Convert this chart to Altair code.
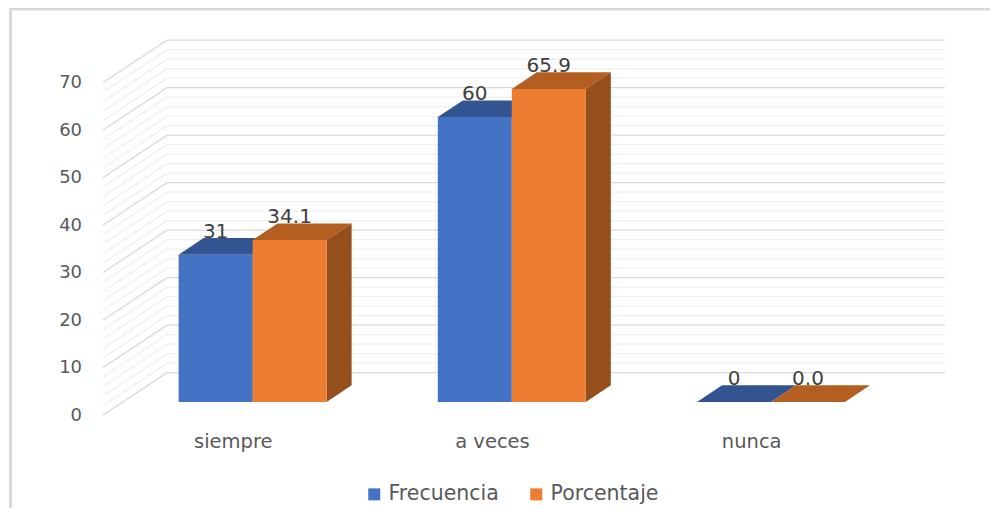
import altair as alt
import pandas as pd

categories = ["siempre", "a veces", "nunca"]
frecuencia = [31, 60, 0]
porcentaje = [34.1, 65.9, 0.0]
series_names = ["Frecuencia", "Porcentaje"]
y_ticks = [0, 10, 20, 30, 40, 50, 60, 70]
minor_ticks = [v for v in range(0, 71, 2) if v % 10 != 0]

FONT = "DejaVu Sans"
W, H = 982, 500
X_DOM = [-0.9437, 2.8449]
Y_DOM = [-22.32, 82.95]
BAR_W, DX, DY = 0.2855, 0.0965, 3.5
WALL_X = (-0.577, -0.330, 2.671)
WALL_Y = (-2.74, 6.19)

xs = alt.Scale(domain=X_DOM, range=[0, W], nice=False, zero=False)
ys = alt.Scale(domain=Y_DOM, range=[H, 0], nice=False, zero=False)
X = lambda f: alt.X(f, type="quantitative", scale=xs, axis=None)
Y = lambda f: alt.Y(f, type="quantitative", scale=ys, axis=None, stack=None)


def wall_rows(levels):
    rows = []
    for v in levels:
        for i, (px, off) in enumerate(zip(WALL_X, (WALL_Y[0], WALL_Y[1], WALL_Y[1]))):
            rows.append({"level": v, "i": i, "x": px, "y": v + off})
    return pd.DataFrame(rows)


def wall(levels, color, width):
    return alt.Chart(wall_rows(levels)).mark_line(color=color, strokeWidth=width).encode(
        x=X("x"), y=Y("y"), detail="level:N", order="i:Q"
    )


def bars(values, s):
    out = []
    for c, v in enumerate(values):
        x0 = c - BAR_W + s * BAR_W
        out.append({"cat": c, "x0": x0, "x1": x0 + BAR_W, "v": v, "mid": x0 + BAR_W / 2})
    return out


def top_rows(values, s):
    rows = []
    for b in bars(values, s):
        v = b["v"]
        rows += [
            {"cat": b["cat"], "x": b["x0"], "a": v, "b": v},
            {"cat": b["cat"], "x": b["x0"] + DX, "a": v, "b": v + DY},
            {"cat": b["cat"], "x": b["x1"], "a": v, "b": v + DY},
            {"cat": b["cat"], "x": b["x1"] + DX, "a": v + DY, "b": v + DY},
        ]
    return pd.DataFrame(rows)


def side_rows(values, s):
    rows = []
    for b in bars(values, s):
        v = b["v"]
        rows += [
            {"cat": b["cat"], "x": b["x1"], "a": 0, "b": v},
            {"cat": b["cat"], "x": b["x1"] + DX, "a": DY, "b": v + DY},
        ]
    return pd.DataFrame(rows)


def face(df, color):
    return alt.Chart(df).mark_area(color=color, orient="vertical", opacity=1).encode(
        x=X("x"), y=Y("a"), y2="b:Q", detail="cat:N"
    )


front = pd.DataFrame(
    [
        {"serie": series_names[s], "x0": b["x0"], "x1": b["x1"], "v": b["v"], "zero": 0}
        for s, vals in enumerate([frecuencia, porcentaje])
        for b in bars(vals, s)
    ]
)
front_layer = alt.Chart(front).mark_rect().encode(
    x=X("x0"),
    x2="x1:Q",
    y=Y("zero"),
    y2="v:Q",
    color=alt.Color(
        "serie:N",
        scale=alt.Scale(domain=series_names, range=["#4472C4", "#ED7D31"]),
        legend=alt.Legend(
            title=None,
            orient="none",
            legendX=356,
            legendY=476,
            direction="horizontal",
            columns=2,
            symbolType="square",
            symbolSize=144,
            symbolStrokeWidth=0,
            labelFont=FONT,
            labelFontSize=20.5,
            labelColor="#595959",
            labelOffset=4,
            columnPadding=27,
        ),
    ),
)

labels = pd.DataFrame(
    [
        {"x": b["mid"], "y": b["v"] + 4.8, "t": t}
        for s, (vals, txt) in enumerate(
            [(frecuencia, ["31", "60", "0"]), (porcentaje, ["34.1", "65.9", "0.0"])]
        )
        for b, t in zip(bars(vals, s), txt)
    ]
)
label_layer = alt.Chart(labels).mark_text(
    font=FONT, fontSize=20, color="#404040", baseline="middle", align="center"
).encode(x=X("x"), y=Y("y"), text="t:N")

ytxt = pd.DataFrame({"v": y_ticks, "x": WALL_X[0] - 0.081, "y": [v + WALL_Y[0] - 0.2 for v in y_ticks]})
y_layer = alt.Chart(ytxt).mark_text(
    font=FONT, fontSize=18, color="#595959", baseline="middle", align="right"
).encode(x=X("x"), y=Y("y"), text="v:N")

cat_df = pd.DataFrame(
    {"c": categories, "x": [i - 0.0745 for i in range(len(categories))], "y": [-8.5] * len(categories)}
)
cat_layer = alt.Chart(cat_df).mark_text(
    font=FONT, fontSize=19.5, color="#595959", baseline="middle", align="center"
).encode(x=X("x"), y=Y("y"), text="c:N")

border_top = alt.Chart(pd.DataFrame({"k": [0]})).mark_rule(color="#d9d9d9", strokeWidth=3).encode(
    x=alt.value(2), x2=alt.value(W), y=alt.value(1)
)
border_left = alt.Chart(pd.DataFrame({"k": [0]})).mark_rule(color="#d9d9d9", strokeWidth=3).encode(
    x=alt.value(2.5), y=alt.value(0), y2=alt.value(H)
)

chart = alt.layer(
    border_top,
    border_left,
    wall(minor_ticks, "#f0f0f0", 1.4),
    wall(y_ticks, "#d9d9d9", 1.4),
    face(side_rows(frecuencia, 0), "#2F5597"),
    face(top_rows(frecuencia, 0), "#325592"),
    face(top_rows(porcentaje, 1), "#B45F22"),
    face(side_rows(porcentaje, 1), "#954F1D"),
    front_layer,
    y_layer,
    cat_layer,
    label_layer,
).properties(
    width=W, height=H, padding=0, autosize=alt.AutoSizeParams(type="none")
).configure_view(stroke=None)

chart.save("out.html", embed_options={"renderer": "svg", "actions": False})
